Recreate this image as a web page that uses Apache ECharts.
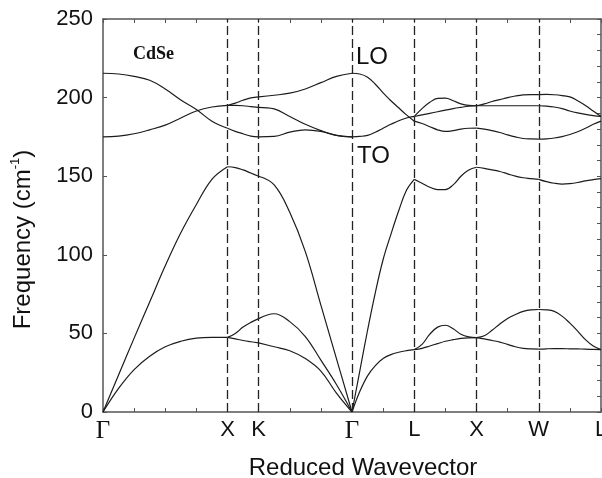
<!DOCTYPE html>
<html>
<head>
<meta charset="utf-8">
<script src="https://cdn.jsdelivr.net/npm/echarts@6/dist/echarts.min.js"></script>
<style>
  html, body {margin: 0; padding: 0; background: #fff;}
  #chart {width: 602px; height: 478px;}
</style>
</head>
<body>
<div id="chart"></div>
<script>
// high-symmetry points along the path
var kPos = [0, 4, 5, 8, 10, 12, 14, 16];
var kNames = ['Γ', 'X', 'K', 'Γ', 'L', 'X', 'W', 'L'];
var dashPos = [4, 5, 8, 10, 12, 14];

// Γ -> X  (TA, LA, TO, LO)
var uGX = [0, 0.5, 1, 1.5, 2, 2.5, 3, 3.5, 4];
var bandsGX = [
  [0, 15, 27, 35.5, 41.5, 45, 47, 47.5, 47.5],
  [0, 23.5, 47, 70, 93, 114, 132, 148, 156],
  [175, 175.5, 177, 179.5, 182.5, 187, 191.5, 194, 195],
  [215.5, 215, 213.5, 211, 205.5, 198.5, 192.5, 185, 180.5]
];

// X -> K
var uXK = [4, 4.25, 4.5, 4.75, 5];
var bandsXK = [
  [47.5, 50, 54, 57, 59.4],
  [47.5, 46.5, 45.5, 44.7, 44],
  [156, 155.5, 154, 152, 150],
  [180.5, 178.5, 177, 175.5, 175],
  [195, 195, 194.8, 194.3, 193.8],
  [195, 196.5, 198.3, 199.8, 200.5]
];

// K -> Γ
var uKG = [5, 5.5, 6, 6.5, 7, 7.5, 8];
var bandsKG = [
  [59.4, 62.5, 57.5, 48, 33, 17.5, 0],
  [44, 41.5, 39, 34, 26, 12, 0],
  [150, 144.5, 127, 102, 68, 34, 0],
  [175, 175.3, 178, 179.5, 178.5, 176, 175],
  [193.8, 192.8, 188, 183, 179, 176, 175],
  [200.5, 201.5, 202.8, 205.5, 209.5, 213.5, 215.5]
];

// Γ -> L
var uGL = [8, 8.25, 8.5, 8.75, 9, 9.25, 9.5, 9.75, 10];
var bandsGL = [
  [0, 13, 23, 29.5, 34, 36.5, 38, 39, 39.7],
  [0, 26, 52, 76, 97, 113, 128, 141, 148],
  [175, 175.3, 176, 178, 180.5, 183, 185.3, 187, 188],
  [215.5, 215, 213, 208.5, 203, 198, 193.5, 189, 185]
];

// L -> X
var uLX = [10, 10.25, 10.5, 10.75, 11, 11.25, 11.5, 11.75, 12];
var bandsLX = [
  [39.7, 43, 49.5, 54, 55.2, 53, 49.5, 47.8, 47.3],
  [39.7, 40.5, 42, 43.5, 45, 46, 46.8, 47.2, 47.3],
  [148, 145.5, 143, 141.5, 141.5, 144.5, 150, 154, 155.7],
  [185, 183.5, 181.5, 179.5, 178.5, 179, 180, 180.5, 180.6],
  [188, 189, 190, 191, 192, 193, 193.8, 194.5, 194.8],
  [188, 193, 197, 199.5, 199.7, 198, 196, 195, 194.8]
];

// X -> W
var uXW = [12, 12.25, 12.5, 12.75, 13, 13.25, 13.5, 13.75, 14];
var bandsXW = [
  [47.3, 48.5, 52, 56, 59.5, 62, 64, 65, 65.2],
  [47.3, 46.5, 45.5, 44.5, 43, 41.5, 40.5, 40.1, 40],
  [155.7, 155, 154, 153, 151.5, 150, 149, 148.5, 148],
  [180.6, 180, 179, 177.8, 176.3, 175, 174, 173.7, 173.6],
  [194.8, 194.8, 194.8, 194.8, 194.8, 194.8, 194.8, 194.8, 194.8],
  [194.8, 196, 197.5, 198.7, 200, 201, 201.7, 201.9, 201.9]
];

// W -> L
var uWL = [14, 14.25, 14.5, 14.75, 15, 15.25, 15.5, 15.75, 16];
var bandsWL = [
  [65.2, 65, 64, 61, 56.5, 51.5, 46, 42, 39.7],
  [40, 40.2, 40.3, 40.3, 40.2, 40.1, 40, 39.8, 39.7],
  [148, 146.5, 145.5, 145, 145.3, 146, 147, 147.8, 148.5],
  [173.6, 173.8, 174.3, 175.2, 176.5, 178.3, 180.5, 183, 185],
  [194.8, 194.6, 194, 193, 191.5, 190.3, 189.3, 188.5, 188],
  [201.9, 202, 201.8, 201.3, 200.5, 198, 195, 191.5, 188]
];

var sections = [
  [uGX, bandsGX], [uXK, bandsXK], [uKG, bandsKG], [uGL, bandsGL],
  [uLX, bandsLX], [uXW, bandsXW], [uWL, bandsWL]
];

var lineColor = '#1c1c1c';
var frameColor = '#555';
var textColor = '#111';
var sans = '"Liberation Sans", Arial, sans-serif';
var serif = '"Liberation Serif", "Times New Roman", serif';

var series = [];
sections.forEach(function (sec) {
  var u = sec[0];
  sec[1].forEach(function (band) {
    series.push({
      type: 'line',
      smooth: 0.4,
      symbol: 'none',
      silent: true,
      lineStyle: {color: lineColor, width: 1.2},
      data: u.map(function (x, i) { return [x, band[i]]; })
    });
  });
});

// dashed verticals at the symmetry points
series[0].markLine = {
  symbol: ['none', 'none'],
  silent: true,
  label: {show: false},
  lineStyle: {color: '#222', width: 1.3, type: [9, 4]},
  data: dashPos.map(function (p) { return {xAxis: p}; })
};

function kLabel(v) {
  var i = kPos.indexOf(Math.round(v * 1000) / 1000);
  if (i < 0) return '';
  return kNames[i] === 'Γ' ? '{g|Γ}' : kNames[i];
}

var chart = echarts.init(document.getElementById('chart'));
chart.setOption({
  animation: false,
  backgroundColor: '#fff',
  grid: {left: 103, top: 19, right: 1, bottom: 66, outerBoundsMode: 'none'},
  xAxis: [{
    type: 'value',
    min: 0, max: 16, interval: 1,
    position: 'bottom',
    name: 'Reduced Wavevector',
    nameLocation: 'middle',
    nameGap: 44,
    nameTextStyle: {fontFamily: sans, fontSize: 24, color: textColor, padding: [0, 0, 0, 22]},
    axisLine: {onZero: false, lineStyle: {color: frameColor, width: 1.5}},
    axisTick: {inside: true, length: 4, lineStyle: {color: frameColor}},
    splitLine: {show: false},
    axisLabel: {
      margin: 7,
      fontFamily: sans, fontSize: 22, color: textColor,
      showMaxLabel: true, showMinLabel: true,
      formatter: kLabel,
      rich: {g: {fontFamily: serif, fontSize: 25, color: textColor}}
    }
  }, {
    type: 'value',
    min: 0, max: 16, interval: 1,
    position: 'top',
    axisLine: {onZero: false, lineStyle: {color: frameColor, width: 1.5}},
    axisTick: {inside: true, length: 4, lineStyle: {color: frameColor}},
    splitLine: {show: false},
    axisLabel: {show: false}
  }],
  yAxis: [{
    type: 'value',
    min: 0, max: 250, interval: 50,
    position: 'left',
    name: 'Frequency (cm{sup|-1})',
    nameLocation: 'middle',
    nameGap: 66,
    nameTextStyle: {
      fontFamily: sans, fontSize: 24, color: textColor, lineHeight: 28,
      padding: [0, 48, 0, 0],
      rich: {sup: {fontFamily: sans, fontSize: 13, lineHeight: 15, verticalAlign: 'top', color: textColor}}
    },
    axisLine: {show: true, onZero: false, lineStyle: {color: frameColor, width: 1.5}},
    axisTick: {inside: true, length: 4, lineStyle: {color: frameColor}},
    splitLine: {show: false},
    axisLabel: {margin: 10, fontFamily: sans, fontSize: 22, color: textColor}
  }, {
    type: 'value',
    min: 0, max: 250, interval: 10,
    position: 'right',
    axisLine: {show: true, onZero: false, lineStyle: {color: frameColor, width: 1.5}},
    axisTick: {inside: true, length: 4, lineStyle: {color: frameColor}},
    splitLine: {show: false},
    axisLabel: {show: false}
  }],
  graphic: [
    {type: 'text', x: 133, y: 54, silent: true,
      style: {text: 'CdSe', font: 'bold 18px ' + serif, fill: textColor, verticalAlign: 'middle'}},
    {type: 'text', x: 356, y: 57, silent: true,
      style: {text: 'LO', font: '24px ' + sans, fill: textColor, verticalAlign: 'middle'}},
    {type: 'text', x: 357, y: 156, silent: true,
      style: {text: 'TO', font: '24px ' + sans, fill: textColor, verticalAlign: 'middle'}}
  ],
  series: series
});
</script>
</body>
</html>
